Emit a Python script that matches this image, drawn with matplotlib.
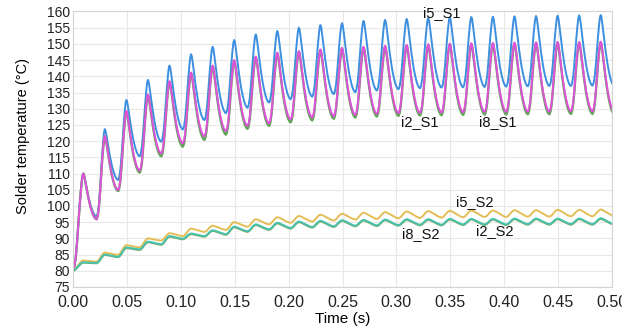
import numpy as np
import matplotlib
matplotlib.use("Agg")
import matplotlib.pyplot as plt
from matplotlib.patches import Rectangle

plt.rcParams['font.family'] = ['Liberation Sans', 'DejaVu Sans']

# peak / trough values read per 20 ms cycle (peak k follows trough k)
peak_t = np.arange(25) * 0.02 + 0.0095
trough_t = np.concatenate([[0.0], np.arange(1, 26) * 0.02 + 0.002])

i5_S1_peak = [110.0, 123.7, 132.7, 138.9, 143.3, 146.8, 149.1, 151.2, 152.9, 154.0, 155.0, 155.8, 156.4,
              157.1, 157.4, 157.7, 158.0, 158.2, 158.3, 158.4, 158.5, 158.6, 158.7, 158.8, 158.9]
i5_S1_trough = [80, 96.7, 108.0, 115.3, 119.8, 123.6, 126.5, 128.6, 130.3, 131.9, 132.9, 133.7, 134.5,
                135.1, 135.6, 136.0, 136.3, 136.5, 136.6, 136.7, 136.8, 136.9, 137.0, 137.0, 137.1, 137.1]
i2_S1_peak = [110.0, 121.6, 129.3, 134.4, 138.5, 141.2, 143.3, 145.0, 146.1, 147.3, 147.8, 148.3, 148.8,
              149.1, 149.4, 149.7, 149.9, 150.1, 150.2, 150.3, 150.4, 150.5, 150.6, 150.6, 150.7]
i2_S1_trough = [80, 95.9, 104.9, 110.9, 116.2, 119.3, 121.5, 123.1, 124.7, 125.5, 126.7, 127.3, 127.7,
                128.1, 128.4, 128.6, 128.7, 128.8, 128.9, 129.0, 129.0, 129.1, 129.1, 129.2, 129.2, 129.2]
i8_S1_peak = [110.0, 121.5, 129.1, 134.2, 138.3, 141.0, 143.1, 144.8, 145.9, 147.1, 147.6, 148.1, 148.6,
              148.9, 149.2, 149.5, 149.7, 149.9, 150.0, 150.1, 150.2, 150.3, 150.4, 150.4, 150.5]
i8_S1_trough = [80, 95.9, 104.6, 110.3, 115.3, 118.3, 120.4, 122.0, 123.8, 124.7, 125.8, 126.4, 126.9,
                127.3, 127.6, 127.8, 127.9, 128.0, 128.1, 128.2, 128.2, 128.3, 128.3, 128.4, 128.4, 128.4]

i5_S2_peak = [83.2, 85.6, 87.9, 90.0, 91.6, 93.0, 93.9, 95.0, 95.9, 96.5, 96.9, 97.3, 97.6,
              97.9, 98.1, 98.3, 98.4, 98.5, 98.6, 98.6, 98.7, 98.7, 98.8, 98.8, 98.9]
i5_S2_trough = [80, 82.8, 84.9, 87.2, 89.3, 90.7, 92.0, 92.6, 93.6, 94.3, 94.8, 95.2, 95.5,
                95.8, 96.0, 96.2, 96.3, 96.4, 96.5, 96.6, 96.6, 96.7, 96.7, 96.8, 96.8, 96.9]
i8_S2_peak = [82.6, 85.0, 87.2, 89.0, 90.7, 91.5, 92.5, 93.6, 94.3, 94.8, 95.2, 95.4, 95.6,
              95.7, 95.8, 95.9, 95.9, 96.0, 96.0, 96.0, 96.1, 96.1, 96.1, 96.1, 96.2]
i8_S2_trough = [80, 82.4, 84.3, 86.6, 88.2, 89.9, 90.7, 91.3, 92.2, 92.8, 93.2, 93.5, 93.7,
                93.9, 94.0, 94.1, 94.2, 94.2, 94.3, 94.3, 94.3, 94.4, 94.4, 94.4, 94.4, 94.4]
i2_S2_peak = [82.5, 84.9, 87.0, 88.8, 90.5, 91.3, 92.3, 93.4, 94.1, 94.6, 95.0, 95.2, 95.4,
              95.5, 95.6, 95.7, 95.7, 95.8, 95.8, 95.8, 95.9, 95.9, 95.9, 95.9, 96.0]
i2_S2_trough = [80, 82.3, 84.2, 86.4, 88.0, 89.7, 90.5, 91.1, 92.0, 92.6, 93.0, 93.3, 93.5,
                93.7, 93.8, 93.9, 94.0, 94.0, 94.1, 94.1, 94.1, 94.2, 94.2, 94.2, 94.2, 94.2]

# shape of one cycle (fraction of rise/fall time -> level)
rise_frac = [0, 0.13, 0.27, 0.4, 0.53, 0.67, 0.8, 0.9, 1.0]
fall_frac = [0.056, 0.12, 0.2, 0.28, 0.36, 0.44, 0.52, 0.6, 0.68, 0.76, 0.84, 0.92, 1.0]
s1_rise = [0, 0.04, 0.14, 0.3, 0.5, 0.7, 0.86, 0.96, 1.0]
s1_fall = [0.97, 0.88, 0.75, 0.62, 0.5, 0.39, 0.29, 0.21, 0.14, 0.08, 0.04, 0.01, 0.0]
s2_rise = [0, 0.07, 0.2, 0.38, 0.57, 0.75, 0.88, 0.97, 1.0]
s2_fall = [0.99, 0.94, 0.86, 0.76, 0.66, 0.56, 0.46, 0.36, 0.26, 0.17, 0.09, 0.03, 0.0]


def build(peaks, troughs, rise, fall):
    t, y = [], []
    for k in range(len(peaks)):
        t0, tp, t1 = trough_t[k], peak_t[k], trough_t[k + 1]
        for f, l in zip(rise_frac, rise):
            t.append(t0 + f * (tp - t0))
            y.append(troughs[k] + l * (peaks[k] - troughs[k]))
        for f, l in zip(fall_frac, fall):
            t.append(tp + f * (t1 - tp))
            y.append(troughs[k + 1] + l * (peaks[k] - troughs[k + 1]))
    return t, y


fig = plt.figure(figsize=(6.42, 3.28), dpi=100)
ax = fig.add_axes([0.1137, 0.125, 0.8396, 0.84])

lw = 1.4
ax.plot(*build(i5_S1_peak, i5_S1_trough, s1_rise, s1_fall), color='#3d8fe0', lw=lw)
ax.plot(*build(i8_S1_peak, i8_S1_trough, s1_rise, s1_fall), color='#62a558', lw=lw + 0.3)
ax.plot(*build(i2_S1_peak, i2_S1_trough, s1_rise, s1_fall), color='#e052dc', lw=lw)
ax.plot(*build(i5_S2_peak, i5_S2_trough, s2_rise, s2_fall), color='#e3bd55', lw=lw)
ax.plot(*build(i2_S2_peak, i2_S2_trough, s2_rise, s2_fall), color='#8aa860', lw=lw)
ax.plot(*build(i8_S2_peak, i8_S2_trough, s2_rise, s2_fall), color='#45c2ad', lw=lw)

ax.set_xlim(0, 0.5)
ax.set_ylim(75, 160)
ax.set_xticks(np.arange(0, 0.501, 0.05))
ax.set_yticks(np.arange(75, 161, 5))
ax.set_xticklabels(['%.2f' % v for v in np.arange(0, 0.501, 0.05)], fontsize=11.5)
ax.set_yticklabels([str(v) for v in range(75, 161, 5)], fontsize=10)
ax.tick_params(length=0, colors='#222222')
ax.tick_params(axis='x', pad=5.5)
ax.tick_params(axis='y', pad=2)
ax.grid(True, color='#e8e8e8', lw=0.8)
for s in ax.spines.values():
    s.set_color('#d4d4d4')
    s.set_linewidth(0.8)

ax.set_xlabel('Time (s)', fontsize=11, labelpad=2)
ax.set_ylabel('Solder temperature (°C)', fontsize=10.5)
ax.yaxis.set_label_coords(-0.08, 0.548)

lab = dict(fontsize=10.5, ha='center', va='center', color='#111111')
ax.text(0.342, 159.6, 'i5_S1', **lab)
ax.text(0.322, 126.0, 'i2_S1', **lab)
ax.text(0.394, 126.0, 'i8_S1', **lab)
ax.text(0.373, 101.3, 'i5_S2', **lab)
ax.text(0.323, 91.5, 'i8_S2', **lab)
ax.text(0.391, 92.3, 'i2_S2', **lab)

# reference picture is cropped just right of the last tick label
fig.patches.append(Rectangle((622 / 642, 0), 1, 1, transform=fig.transFigure,
                             color='white', zorder=10))

fig.savefig('out.png', dpi=100)
